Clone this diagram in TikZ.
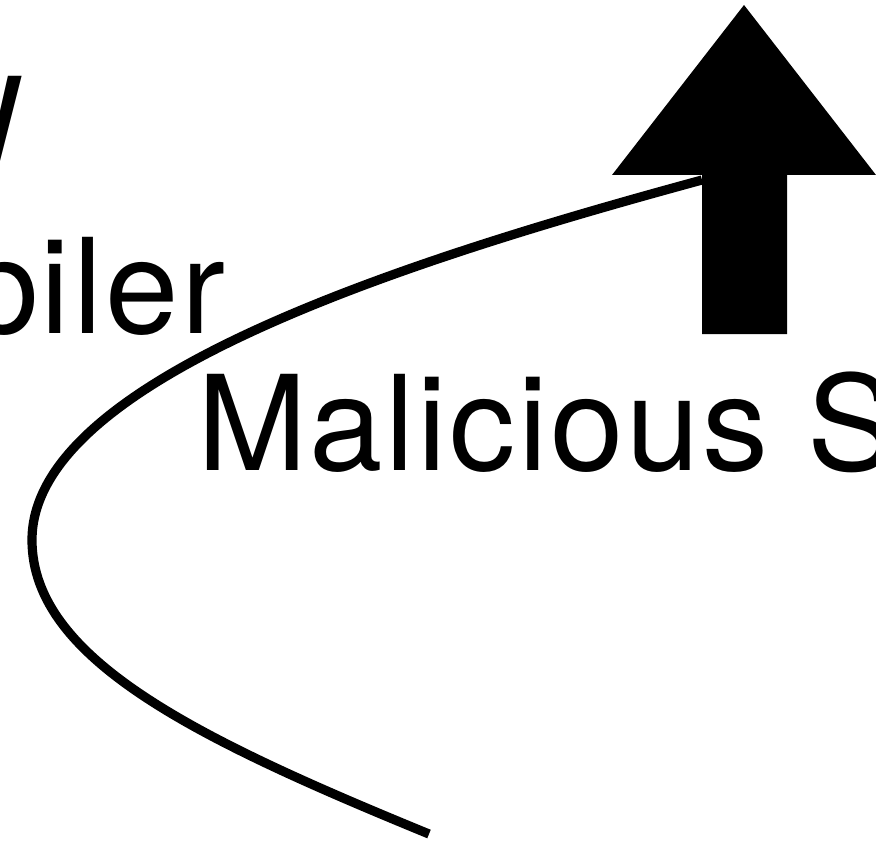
\documentclass[tikz,border=0pt]{standalone}
\usepackage{fontspec}
\setmainfont{TeX Gyre Heros}[LetterSpace=2]
\usetikzlibrary{positioning}

\begin{document}
\begin{tikzpicture}[x=0.5pt, y=-0.5pt,
  every node/.style={inner sep=0pt, outer sep=0pt, font=\fontsize{66}{80}\selectfont},
  path/.style={line width=4.6pt, line cap=butt}]

  \useasboundingbox (0,0) rectangle (876,845);
  \clip (0,0) rectangle (876,845);

  % Labels on the left, running out of the frame
  \node (upper) [anchor=base east] at (24,173) {W};
  \node (compiler) [anchor=base east] at (225,333) {biler};

  % Label under the arrow
  \node (malicious) [anchor=base west] at (197,470) {Malicious S};

  % Big block arrow
  \fill (744,5) -- (876,175) -- (787,175) -- (787,334) -- (702,334)
        -- (702,175) -- (612,175) -- cycle;
  \coordinate (arrowfoot) at (702,180);
  \coordinate (tail) at (429,834);
  \coordinate (bend) at (32,540);

  % Curved path leaving the arrow
  \draw[path] (arrowfoot) .. controls (400,262) and (32,380) .. (bend)
              .. controls (32,660) and (200,740) .. (tail);

\end{tikzpicture}
\end{document}
